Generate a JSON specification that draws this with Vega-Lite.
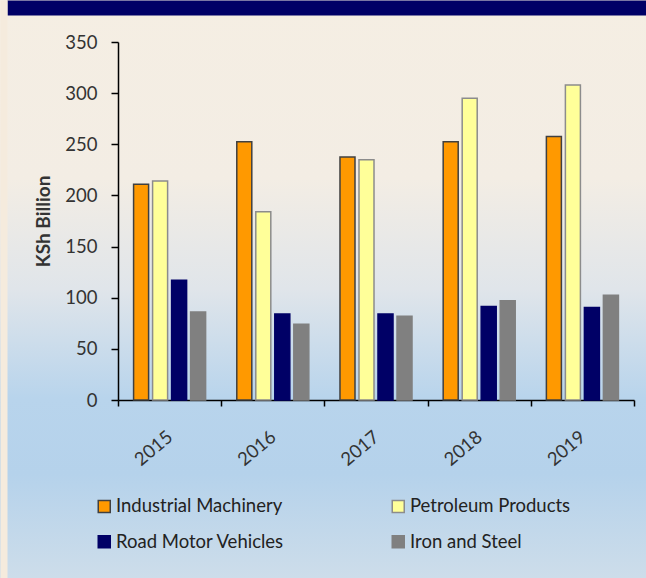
{
  "$schema": "https://vega.github.io/schema/vega-lite/v6.json",
  "width": 646,
  "height": 578,
  "padding": 0,
  "autosize": {"type": "none"},
  "background": "#F5EEE3",
  "config": {
    "font": "Lato",
    "view": {
      "stroke": null,
      "fill": {
        "gradient": "linear",
        "x1": 0, "y1": 0, "x2": 0, "y2": 1,
        "stops": [
          {"offset": 0, "color": "#F5EEE3"},
          {"offset": 0.31, "color": "#F3EDE4"},
          {"offset": 0.5, "color": "#E0E5EA"},
          {"offset": 0.69, "color": "#B8D4EC"},
          {"offset": 0.82, "color": "#B5D2EB"},
          {"offset": 1, "color": "#CDDDEA"}
        ]
      }
    }
  },
  "data": {
    "values": [
      {"year": "2015", "category": "Industrial Machinery", "value": 211},
      {"year": "2015", "category": "Petroleum Products", "value": 214},
      {"year": "2015", "category": "Road Motor Vehicles", "value": 117},
      {"year": "2015", "category": "Iron and Steel", "value": 86},
      {"year": "2016", "category": "Industrial Machinery", "value": 252.5},
      {"year": "2016", "category": "Petroleum Products", "value": 184},
      {"year": "2016", "category": "Road Motor Vehicles", "value": 84},
      {"year": "2016", "category": "Iron and Steel", "value": 74},
      {"year": "2017", "category": "Industrial Machinery", "value": 237.5},
      {"year": "2017", "category": "Petroleum Products", "value": 235},
      {"year": "2017", "category": "Road Motor Vehicles", "value": 84},
      {"year": "2017", "category": "Iron and Steel", "value": 82},
      {"year": "2018", "category": "Industrial Machinery", "value": 252.5},
      {"year": "2018", "category": "Petroleum Products", "value": 295},
      {"year": "2018", "category": "Road Motor Vehicles", "value": 91.5},
      {"year": "2018", "category": "Iron and Steel", "value": 97},
      {"year": "2019", "category": "Industrial Machinery", "value": 257.5},
      {"year": "2019", "category": "Petroleum Products", "value": 308},
      {"year": "2019", "category": "Road Motor Vehicles", "value": 90.5},
      {"year": "2019", "category": "Iron and Steel", "value": 102.5}
    ]
  },
  "layer": [
    {
      "mark": {"type": "bar", "strokeWidth": 1.5},
      "encoding": {
        "x": {
          "field": "year", "type": "ordinal",
          "scale": {"range": [118, 634], "paddingInner": 0, "paddingOuter": 0},
          "axis": {
            "orient": "bottom", "offset": -178, "title": null,
            "labelAngle": -40, "labelAlign": "right", "labelBaseline": "middle",
            "labelPadding": 28, "labelFontSize": 18.5, "labelColor": "#333333",
            "tickBand": "extent", "tickSize": 6, "tickColor": "#000000", "tickWidth": 1.5,
            "domainColor": "#000000", "domainWidth": 1.5
          }
        },
        "xOffset": {
          "field": "category", "type": "nominal",
          "scale": {
            "domain": ["Industrial Machinery", "Petroleum Products", "Road Motor Vehicles", "Iron and Steel"],
            "paddingInner": 0.21, "paddingOuter": 0.82
          }
        },
        "y": {
          "field": "value", "type": "quantitative",
          "scale": {"domain": [0, 350], "range": [400, 42], "nice": false},
          "axis": {
            "orient": "left", "offset": -118, "title": "KSh Billion",
            "values": [0, 50, 100, 150, 200, 250, 300, 350],
            "grid": false, "labelFontSize": 18.5, "labelColor": "#333333", "labelPadding": 14,
            "tickSize": 7, "tickColor": "#000000", "tickWidth": 1.5,
            "domainColor": "#000000", "domainWidth": 1.5,
            "titleFontSize": 19, "titleFontWeight": "bold", "titleColor": "#333333", "titlePadding": 11
          }
        },
        "fill": {
          "field": "category", "type": "nominal",
          "scale": {
            "domain": ["Industrial Machinery", "Petroleum Products", "Road Motor Vehicles", "Iron and Steel"],
            "range": ["#FF9900", "#FFFF99", "#000066", "#808080"]
          },
          "legend": {
            "orient": "none", "legendX": 95, "legendY": 497, "columns": 2, "direction": "horizontal",
            "title": null, "symbolType": "square", "symbolSize": 144, "symbolStrokeWidth": 1.5,
            "labelFontSize": 18.5, "labelColor": "#222222", "labelOffset": 2.5,
            "columnPadding": 104, "rowPadding": 16.5, "labelLimit": 300
          }
        },
        "stroke": {
          "field": "category", "type": "nominal",
          "scale": {
            "domain": ["Industrial Machinery", "Petroleum Products", "Road Motor Vehicles", "Iron and Steel"],
            "range": ["#404040", "#8C8C8C", "#000066", "#808080"]
          }
        }
      }
    },
    {
      "mark": {"type": "point", "opacity": 0},
      "encoding": {
        "x": {
          "field": "value", "type": "quantitative",
          "scale": {"range": [7, 646], "nice": false},
          "axis": {
            "orient": "top", "offset": -7.5, "title": null, "labels": false, "ticks": false, "grid": false,
            "domainColor": "#000066", "domainWidth": 15
          }
        },
        "y": {
          "field": "value", "type": "quantitative",
          "scale": {"range": [578, 0], "nice": false},
          "axis": {
            "orient": "left", "offset": -3.5, "title": null, "labels": false, "ticks": false, "grid": false,
            "domainColor": "#F5EBDD", "domainWidth": 7
          }
        }
      }
    }
  ],
  "resolve": {
    "scale": {"x": "independent", "y": "independent"},
    "axis": {"x": "independent", "y": "independent"}
  }
}
